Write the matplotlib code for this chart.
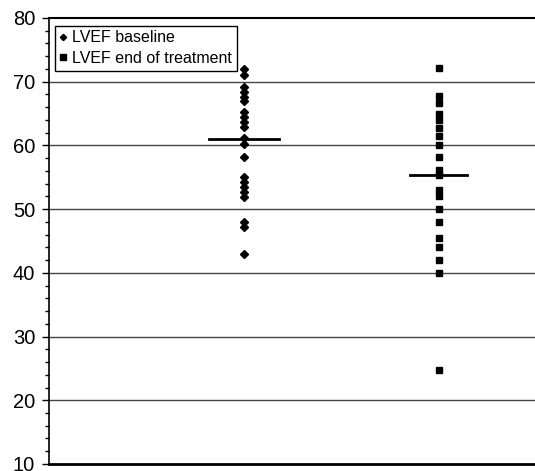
import matplotlib.pyplot as plt
import numpy as np

plt.rcParams['font.family'] = ['Liberation Sans', 'DejaVu Sans']

# LVEF values
baseline = [72.0, 71.0, 69.2, 68.4, 67.6, 66.9, 65.3, 64.5, 63.7, 62.9,
            61.1, 60.3, 58.2, 55.1, 54.3, 53.5, 52.7, 51.9, 48.0, 47.2, 43.0]
end_treat = [72.1, 67.7, 66.7, 65.0, 64.0, 62.7, 61.4, 60.1, 58.2, 56.1,
             55.3, 53.0, 52.0, 50.0, 48.0, 45.5, 44.0, 42.0, 40.0, 24.7]
means = [61.0, 55.4]
labels = ["LVEF baseline", "LVEF end of treatment"]
yticks = [10, 20, 30, 40, 50, 60, 70, 80]

fig = plt.figure(figsize=(5.35, 4.71), dpi=100)
ax = fig.add_axes([0.0916, 0.0149, 0.9084, 0.9469])

for y in yticks[1:-1]:
    ax.axhline(y, color="#444444", linewidth=1.0, zorder=1)

ax.plot(np.full(len(baseline), 1.0), baseline, "D", color="black",
        markersize=4.0, linestyle="none", label=labels[0], zorder=3)
ax.plot(np.full(len(end_treat), 2.0), end_treat, "s", color="black",
        markersize=5, linestyle="none", label=labels[1], zorder=3)

ax.plot([0.82, 1.18], [means[0]] * 2, color="black", linewidth=2, zorder=4)
ax.plot([1.85, 2.14], [means[1]] * 2, color="black", linewidth=2, zorder=4)

ax.set_xlim(0, 2.49)
ax.set_ylim(10, 80)
ax.set_yticks(yticks)
ax.set_yticks(np.arange(10, 81, 2), minor=True)
ax.set_xticks([])
ax.tick_params(axis="y", which="major", direction="out", length=5, width=1,
               labelsize=14.5, pad=5)
ax.tick_params(axis="y", which="minor", direction="out", length=3, width=1)

ax.spines["right"].set_visible(False)
ax.spines["top"].set_linewidth(1.5)
ax.spines["bottom"].set_linewidth(2)
ax.spines["left"].set_linewidth(1.2)

leg = ax.legend(loc="upper left", bbox_to_anchor=(0.005, 0.99), fontsize=11.5,
                frameon=True, fancybox=False, edgecolor="black", framealpha=1,
                handlelength=0.4, handletextpad=0.4, borderpad=0.3,
                labelspacing=0.35, borderaxespad=0.2, markerscale=0.8)
leg.get_frame().set_linewidth(1)

plt.savefig("out.png", dpi=100)
